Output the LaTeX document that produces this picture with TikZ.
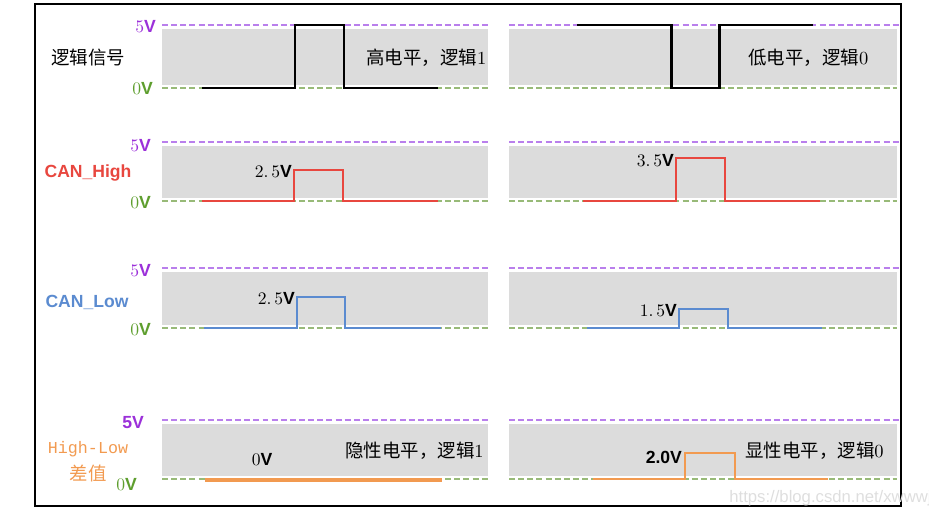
\documentclass[tikz,border=0pt]{standalone}
\usepackage{fontspec}
\newfontfamily\cjk{Noto Sans CJK SC}
\newfontfamily\lab{Liberation Sans}
\newfontfamily\monof{Liberation Mono}
\newcommand{\vlt}{{\lab\bfseries V}}

\definecolor{bandgray}{HTML}{DCDCDC}
\definecolor{hiline}{HTML}{B97FEC}
\definecolor{loline}{HTML}{98BA78}
\definecolor{hitext}{HTML}{9B30D9}
\definecolor{lotext}{HTML}{5E9E2E}
\definecolor{canhigh}{HTML}{E8473F}
\definecolor{canlow}{HTML}{5B8BD0}
\definecolor{difforange}{HTML}{F29A50}

\begin{document}
\begin{tikzpicture}[x=0.02cm, y=-0.02cm,
    band/.style={fill=bandgray},
    hidash/.style={draw=hiline, line width=1.3pt, dash pattern=on 3.4pt off 1.8pt},
    lodash/.style={draw=loline, line width=1.3pt, dash pattern=on 3.4pt off 1.8pt},
    sig/.style={line width=1.4pt, line join=miter},
    vhi/.style={text=hitext, font=\fontsize{10}{12}\selectfont, anchor=east, inner sep=1pt},
    vlo/.style={text=lotext, font=\fontsize{10}{12}\selectfont, anchor=east, inner sep=1pt},
    side/.style={inner sep=0pt},
    val/.style={font=\fontsize{10}{12}\selectfont, anchor=east, inner sep=1pt},
    note/.style={font=\fontsize{10.5}{12}\selectfont, anchor=west, inner sep=0pt}]
    \useasboundingbox (0,0) rectangle (929,518);

    % Outer frame
    \draw[line width=0.8pt] (35,4) rectangle (901,506);

    % Grey bands and the 5V / 0V levels of each row
    \foreach \yh/\yl in {25/88, 142/201, 268/328, 420/479} {
        \fill[band] (162,\yh+4) rectangle (488,\yl-3);
        \fill[band] (509,\yh+4) rectangle (897,\yl-3);
        \draw[hidash] (162,\yh) -- (488,\yh);
        \draw[hidash] (509,\yh) -- (899,\yh);
        \draw[lodash] (162,\yl) -- (488,\yl);
        \draw[lodash] (509,\yl) -- (897,\yl);
    }

    % Level labels
    \node[vhi] (hiA) at (158,27) {5\vlt};
    \node[vlo] (loA) at (155,89) {0\vlt};
    \node[vhi] (hiB) at (153,146) {5\vlt};
    \node[vlo] (loB) at (153,203) {0\vlt};
    \node[vhi] (hiC) at (153,271) {5\vlt};
    \node[vlo] (loC) at (153,330) {0\vlt};
    \node[vhi] (hiD) at (146,423) {{\lab\bfseries 5}\vlt};
    \node[vlo] (loD) at (139,485) {0\vlt};

    % Row labels
    \node[side, font=\cjk\fontsize{10.5}{12}\selectfont] (logic) at (88,58) {逻辑信号};
    \node[side, text=canhigh, font=\lab\bfseries\fontsize{10}{12}\selectfont] (canh) at (88,173) {CAN\_High};
    \node[side, text=canlow, font=\lab\bfseries\fontsize{10}{12}\selectfont] (canl) at (87,302) {CAN\_Low};
    \node[side, text=difforange, font=\monof\fontsize{9.5}{12}\selectfont] (diff) at (88,449) {High-Low};
    \node[side, text=difforange, font=\cjk\fontsize{10.5}{12}\selectfont] (diffcn) at (88,473) {差值};

    % Logic signal
    \draw[sig, line width=1.7pt] (202,88) -- (295,88) -- (295,25) -- (344,25) -- (344,88) -- (438,88);
    \draw[sig, line width=1.7pt] (577,25) -- (671,25) -- (671,88) -- (719,88) -- (719,25) -- (813,25);
    \node[note] (hiA) at (366,58) {{\cjk 高电平，逻辑}1};
    \node[note] (loA) at (748,58) {{\cjk 低电平，逻辑}0};

    % CAN_High
    \draw[sig, canhigh] (202,201) -- (294,201) -- (294,170) -- (343,170) -- (343,201) -- (438,201);
    \draw[sig, canhigh] (583,201) -- (676,201) -- (676,158) -- (725,158) -- (725,201) -- (820,201);
    \node[val] (vhB) at (294,172) {2.\,5\vlt};
    \node[val] (vhB2) at (676,161) {3.\,5\vlt};

    % CAN_Low
    \draw[sig, canlow] (204,328) -- (297,328) -- (297,297) -- (345,297) -- (345,328) -- (441,328);
    \draw[sig, canlow] (587,328) -- (679,328) -- (679,309) -- (728,309) -- (728,328) -- (822,328);
    \node[val] (vlC) at (297,299) {2.\,5\vlt};
    \node[val] (vlC2) at (679,311) {1.\,5\vlt};

    % Difference
    \draw[sig, difforange, line width=2pt] (205,480) -- (442,480);
    \draw[sig, difforange] (593,479) -- (685,479) -- (685,453) -- (735,453) -- (735,479) -- (828,479);
    \node[font=\fontsize{10}{12}\selectfont, inner sep=0pt] (zero) at (262,460) {0\vlt};
    \node[val, font=\lab\bfseries\fontsize{10}{12}\selectfont] (two) at (684,457) {2.0V};
    \node[note] (recA) at (345,451) {{\cjk 隐性电平，逻辑}1};
    \node[note] (domA) at (745,451) {{\cjk 显性电平，逻辑}0};

    % Watermark
    \node[text=black!13, font=\lab\fontsize{9.5}{12}\selectfont, anchor=west, inner sep=0pt] (mark) at (729,498) {https://blog.csdn.net/xwwwj};
\end{tikzpicture}
\end{document}
